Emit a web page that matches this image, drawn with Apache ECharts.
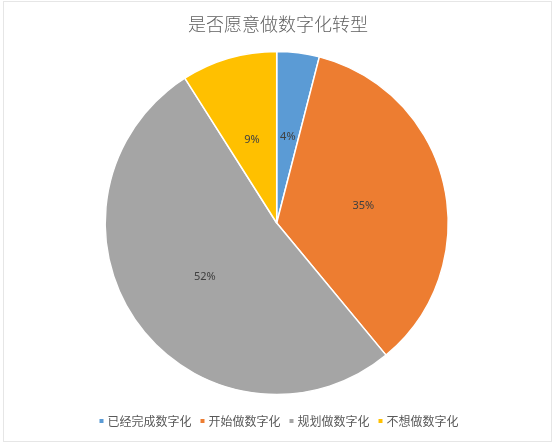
<!DOCTYPE html>
<html>
<head>
<meta charset="utf-8">
<script src="https://cdn.jsdelivr.net/npm/echarts@6/dist/echarts.min.js"></script>
<style>
html,body{margin:0;padding:0;background:#fff;}
#frame{position:absolute;left:3px;top:1px;width:549px;height:441px;border:1px solid #e6e6e6;box-sizing:border-box;}
#chart{position:absolute;left:0;top:0;width:556px;height:444px;}
</style>
</head>
<body>
<div id="frame"></div>
<div id="chart"></div>
<script>
var titleText = '是否愿意做数字化转型';
var categories = ['已经完成数字化', '开始做数字化', '规划做数字化', '不想做数字化'];
var values = [4, 35, 52, 9];
var colors = ['#5B9BD5', '#ED7D31', '#A5A5A5', '#FFC000'];

var chart = echarts.init(document.getElementById('chart'), null, {renderer: 'canvas'});
chart.setOption({
  animation: false,
  backgroundColor: 'transparent',
  color: colors,
  title: {
    text: titleText,
    left: 'center',
    top: 10,
    textStyle: {
      fontFamily: 'Noto Sans CJK SC',
      fontSize: 18,
      fontWeight: 300,
      color: '#5f5f5f'
    }
  },
  legend: {
    bottom: 12,
    left: 'center',
    icon: 'rect',
    itemWidth: 6,
    itemHeight: 6,
    itemGap: 7,
    textStyle: {
      fontFamily: 'Noto Sans CJK SC',
      fontSize: 12,
      color: '#595959',
      padding: [0, 0, 0, -2]
    },
    data: categories
  },
  series: [{
    type: 'pie',
    center: [276.7, 223],
    radius: 171.5,
    startAngle: 90,
    clockwise: true,
    avoidLabelOverlap: false,
    itemStyle: {borderColor: '#ffffff', borderWidth: 1.5},
    label: {
      show: true,
      position: 'inside',
      formatter: '{d}%',
      fontFamily: 'Noto Sans, DejaVu Sans, sans-serif',
      fontSize: 11,
      color: '#404040',
      offset: [0, 2]
    },
    labelLine: {show: false},
    emphasis: {disabled: true},
    data: categories.map(function (c, i) { return {name: c, value: values[i]}; })
  }]
});
</script>
</body>
</html>
